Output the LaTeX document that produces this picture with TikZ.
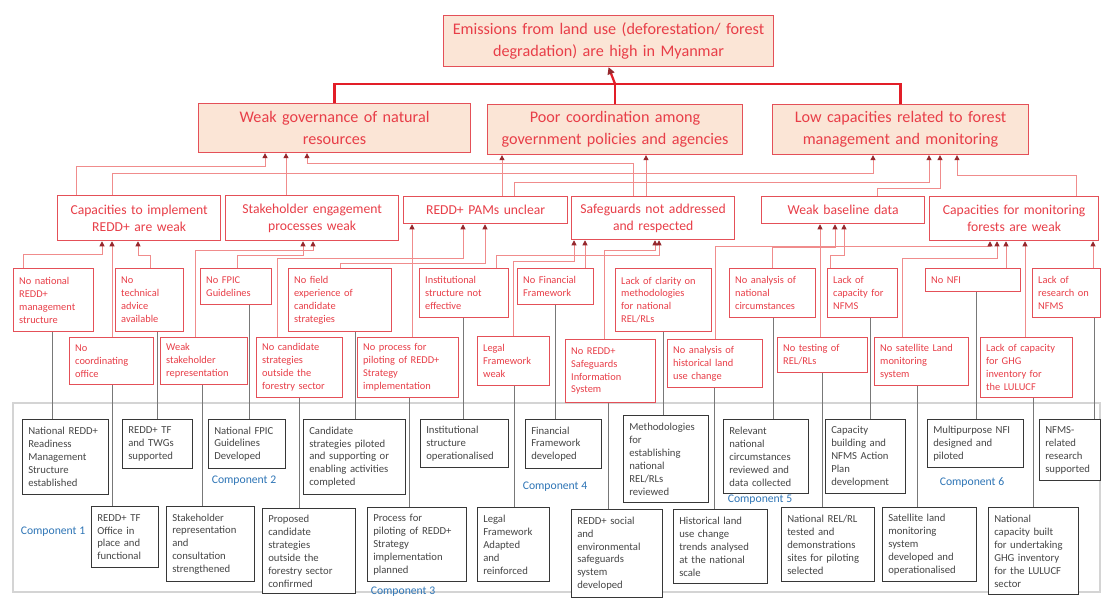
\documentclass[tikz,border=0pt]{standalone}
\usepackage{fontspec}
\setmainfont{Carlito}
\usetikzlibrary{arrows.meta}
\definecolor{peach}{RGB}{251,229,214}
\definecolor{boxred}{RGB}{228,80,88}
\definecolor{txtred}{RGB}{232,62,72}
\definecolor{linkred}{RGB}{240,140,140}
\definecolor{tipred}{RGB}{150,40,45}
\definecolor{busred}{RGB}{226,30,40}
\definecolor{boxblack}{RGB}{55,55,55}
\definecolor{txtblack}{RGB}{70,70,70}
\definecolor{greyline}{RGB}{120,120,120}
\definecolor{frame}{RGB}{212,212,212}
\definecolor{compblue}{RGB}{46,117,182}
\newcommand{\mybox}[7]{%
  \node[#1, anchor=north west, minimum width={(#5-#3)*0.025cm}, minimum height={(#6-#4)*0.025cm},
        text width={(#5-#3)*0.025cm-2*\pgfkeysvalueof{/pgf/inner xsep}}] (#2) at (#3,#4) {#7};}
\begin{document}
\begin{tikzpicture}[x=0.025cm,y=-0.025cm,
  lvlA/.style={draw=boxred, line width=0.8pt, fill=peach, text=txtred, align=center,
     inner xsep=3pt, inner ysep=0pt, font=\fontsize{11.5}{15.4}\selectfont},
  lvlB/.style={draw=boxred, line width=0.9pt, fill=white, text=txtred, align=center,
     inner xsep=3pt, inner ysep=0pt, font=\fontsize{9.7}{12}\selectfont},
  lvlC/.style={draw=boxred, line width=0.8pt, fill=white, text=txtred, align=left,
     inner xsep=4pt, inner ysep=0pt, font=\fontsize{7.4}{9.2}\selectfont},
  outbox/.style={draw=boxblack, line width=0.9pt, fill=white, text=txtblack, align=left,
     inner xsep=4pt, inner ysep=0pt, font=\fontsize{7.6}{9.2}\selectfont},
  uplink/.style={draw=linkred, line width=0.6pt, -{Triangle[length=3.6pt,width=3.6pt,color=tipred]}},
  downlink/.style={draw=greyline, line width=0.6pt},
  bus/.style={draw=busred, line width=1.6pt},
  comp/.style={text=compblue, font=\fontsize{8.3}{10}\selectfont, inner sep=0pt}]
\useasboundingbox (0,0) rectangle (1106,599);
\fill[white] (0,0) rectangle (1106,599);

% frame of the outputs
\draw[frame, line width=0.8pt] (13,403) rectangle (1100,592);

% ---------- level 0 and 1
\mybox{lvlA}{top}{443}{15}{773}{66}{Emissions from land use (deforestation/ forest\\degradation) are high in Myanmar}
\mybox{lvlA}{wg}{198}{103}{470}{152}{Weak governance of natural\\resources}
\mybox{lvlA}{poor}{487}{104}{742}{154}{Poor coordination among\\government policies and agencies}
\mybox{lvlA}{lowcap}{772}{104}{1028}{154}{Low capacities related to forest\\management and monitoring}

% ---------- level 2
\mybox{lvlB}{capimp}{57}{195}{220}{240}{Capacities to implement\\REDD+ are weak}
\mybox{lvlB}{stake}{225}{195}{398}{240}{Stakeholder engagement\\processes weak}
\mybox{lvlB}{pams}{403}{196}{567}{223}{REDD+ PAMs unclear}
\mybox{lvlB}{safe}{571}{196}{734}{239}{Safeguards not addressed\\and respected}
\mybox{lvlB}{weakbl}{761}{196}{924}{223}{Weak baseline data}
\mybox{lvlB}{capmon}{929}{196}{1098}{240}{Capacities for monitoring\\forests are weak}

% ---------- level 3, upper row
\mybox{lvlC}{nonat}{13}{268}{93}{331}{No national\\REDD+\\management\\structure}
\mybox{lvlC}{notech}{115}{268}{183}{331}{No\\technical\\advice\\available}
\mybox{lvlC}{nofpic}{200}{268}{271}{304}{No FPIC\\Guidelines}
\mybox{lvlC}{nofield}{288}{268}{391}{331}{No field\\experience of\\candidate\\strategies}
\mybox{lvlC}{instit}{419}{268}{508}{317}{Institutional\\structure not\\effective}
\mybox{lvlC}{nofin}{517}{268}{593}{304}{No Financial\\Framework}
\mybox{lvlC}{lack}{615}{268}{711}{331}{Lack of clarity on\\methodologies\\for national\\REL/RLs}
\mybox{lvlC}{nonatcirc}{729}{268}{815}{317}{No analysis of\\national\\circumstances}
\mybox{lvlC}{lacknfms}{827}{268}{897}{317}{Lack of\\capacity for\\NFMS}
\mybox{lvlC}{nonfi}{925}{268}{1020}{291}{No NFI}
\mybox{lvlC}{lackres}{1032}{268}{1100}{317}{Lack of\\research on\\NFMS}
% ---------- level 3, lower row
\mybox{lvlC}{nocoord}{69}{337}{153}{384}{No\\coordinating\\office}
\mybox{lvlC}{weakstake}{160}{337}{247}{384}{Weak\\stakeholder\\representation}
\mybox{lvlC}{nocand}{256}{337}{342}{397}{No candidate\\strategies\\outside the\\forestry sector}
\mybox{lvlC}{noproc}{357}{337}{458}{397}{No process for\\piloting of REDD+\\Strategy\\implementation}
\mybox{lvlC}{legal}{477}{336}{549}{385}{Legal\\Framework\\weak}
\mybox{lvlC}{nosafe}{565}{339}{655}{402}{No REDD+\\Safeguards\\Information\\System}
\mybox{lvlC}{histland}{667}{339}{762}{387}{No analysis of\\historical land\\use change}
\mybox{lvlC}{notest}{777}{337}{867}{372}{No testing of\\REL/RLs}
\mybox{lvlC}{nosat}{874}{337}{968}{385}{No satellite Land\\monitoring\\system}
\mybox{lvlC}{lackghg}{980}{337}{1072}{397}{Lack of capacity\\for GHG\\inventory for\\the LULUCF}

% ---------- outputs, upper row
\mybox{outbox}{o1}{22}{419}{108}{494}{National REDD+\\Readiness\\Management\\Structure\\established}
\mybox{outbox}{o2}{122}{419}{192}{468}{REDD+ TF\\and TWGs\\supported}
\mybox{outbox}{o3}{208}{419}{285}{468}{National FPIC\\Guidelines\\Developed}
\mybox{outbox}{o4}{303}{419}{405}{494}{Candidate\\strategies piloted\\and supporting or\\enabling activities\\completed}
\mybox{outbox}{o5}{420}{419}{508}{467}{Institutional\\structure\\operationalised}
\mybox{outbox}{o6}{525}{419}{601}{468}{Financial\\Framework\\developed}
\mybox{outbox}{o7}{623}{415}{708}{502}{Methodologies\\for\\establishing\\national\\REL/RLs\\reviewed}
\mybox{outbox}{o8}{723}{419}{808}{493}{Relevant\\national\\circumstances\\reviewed and\\data collected}
\mybox{outbox}{o9}{825}{419}{905}{493}{Capacity\\building and\\NFMS Action\\Plan\\development}
\mybox{outbox}{o10}{927}{419}{1023}{467}{Multipurpose NFI\\designed and\\piloted}
\mybox{outbox}{o11}{1039}{419}{1100}{480}{NFMS-\\related\\research\\supported}
% ---------- outputs, lower row
\mybox{outbox}{p1}{91}{506}{158}{567}{REDD+ TF\\Office in\\place and\\functional}
\mybox{outbox}{p2}{166}{506}{254}{581}{Stakeholder\\representation\\and\\consultation\\strengthened}
\mybox{outbox}{p3}{262}{508}{355}{593}{Proposed\\candidate\\strategies\\outside the\\forestry sector\\confirmed}
\mybox{outbox}{p4}{367}{507}{466}{581}{Process for\\piloting of REDD+\\Strategy\\implementation\\planned}
\mybox{outbox}{p5}{477}{507}{549}{581}{Legal\\Framework\\Adapted\\and\\reinforced}
\mybox{outbox}{p6}{571}{509}{662}{597}{REDD+ social\\and\\environmental\\safeguards\\system\\developed}
\mybox{outbox}{p7}{673}{509}{767}{583}{Historical land\\use change\\trends analysed\\at the national\\scale}
\mybox{outbox}{p8}{781}{507}{874}{581}{National REL/RL\\tested and\\demonstrations\\sites for piloting\\selected}
\mybox{outbox}{p9}{882}{507}{976}{581}{Satellite land\\monitoring\\system\\developed and\\operationalised}
\mybox{outbox}{p10}{988}{507}{1078}{594}{National\\capacity built\\for undertaking\\GHG inventory\\for the LULUCF\\sector}

% ---------- component labels
\node[comp] (c1) at (53,532) {Component 1};
\node[comp] (c2) at (244,481) {Component 2};
\node[comp] (c3) at (403,592) {Component 3};
\node[comp] (c4) at (555,487) {Component 4};
\node[comp] (c5) at (760,500) {Component 5};
\node[comp] (c6) at (972,482) {Component 6};

% ---------- bus to the top box
\draw[bus] (wg.north) |- (lowcap.north |- 0,84) -- (lowcap.north);
\draw[bus] (poor.north) -- (poor.north |- 0,84);
\draw[bus, -{Triangle[length=5pt,width=5pt,color=tipred]}] (poor.north |- 0,84) -- (top.south);

% ---------- level 2 -> level 1
\draw[uplink] (capimp.north -| 76,0) -- (76,166) -| (wg.south -| 265,0);
\draw[uplink] (stake.north -| 286,0) -- (wg.south -| 286,0);
\draw[uplink] (safe.north -| 633,0) -- (633,163) -| (wg.south -| 307,0);
\draw[uplink] (capimp.north -| 112,0) -- (112,173) -| (lowcap.south -| 873,0);
\draw[uplink] (pams.north -| 502,0) -- (poor.south -| 502,0);
\draw[uplink] (safe.north -| 646,0) -- (poor.south -| 646,0);
\draw[uplink] (pams.north -| 514,0) -- (514,182) -| (lowcap.south -| 929,0);
\draw[uplink] (weakbl.north -| 877,0) -- (877,188) -| (lowcap.south -| 940,0);
\draw[uplink] (capmon.north -| 1076,0) -- (1076,175) -| (lowcap.south -| 957,0);

% ---------- level 3 -> level 2
\draw[uplink] (nonat.north -| 23,0) -- (23,254) -| (capimp.south -| 102,0);
\draw[uplink] (nocoord.north -| 112,0) -- (capimp.south -| 112,0);
\draw[uplink] (notech.north -| 150,0) -- (150,255) -| (capimp.south -| 138,0);
\draw[uplink] (nofpic.north -| 237,0) -- (237,255) -| (stake.south -| 303,0);
\draw[uplink] (weakstake.north -| 195,0) -- (195,250) -| (stake.south -| 313,0);
\draw[uplink] (noproc.north -| 412,0) -- (pams.south -| 412,0);
\draw[uplink] (nocand.north -| 277,0) -- (277,258) -| (pams.south -| 463,0);
\draw[uplink] (nofield.north -| 340,0) -- (340,263) -| (pams.south -| 485,0);
\draw[uplink] (nofin.north -| 585,0) -- (safe.south -| 585,0);
\draw[uplink] (legal.north -| 513,0) -- (513,261) -| (safe.south -| 574,0);
\draw[uplink] (instit.north -| 496,0) -- (496,255) -| (safe.south -| 659,0);
\draw[uplink] (nosafe.north -| 604,0) -- (604,250) -| (safe.south -| 655,0);
\draw[uplink] (histland.north -| 715,0) -- (715,246) -| (capmon.south -| 990,0);
\draw[uplink] (notest.north -| 820,0) -- (weakbl.south -| 820,0);
\draw[uplink] (nonatcirc.north -| 772,0) -- (772,247) -| (weakbl.south -| 835,0);
\draw[uplink] (lacknfms.north -| 830,0) -- (830,255) -| (weakbl.south -| 844,0);
\draw[uplink] (nosat.north -| 902,0) -- (902,258) -| (capmon.south -| 997,0);
\draw[uplink] (nonfi.north -| 1006,0) -- (capmon.south -| 1006,0);
\draw[uplink] (lackghg.north -| 1025,0) -- (capmon.south -| 1025,0);
\draw[uplink] (lackres.north -| 1093,0) -- (capmon.south -| 1093,0);

% ---------- level 3 -> outputs
\draw[downlink] (nonat.south -| 52,0) -- (o1.north -| 52,0);
\draw[downlink] (notech.south -| 157,0) -- (o2.north -| 157,0);
\draw[downlink] (nocoord.south -| 112,0) -- (p1.north -| 112,0);
\draw[downlink] (weakstake.south -| 202,0) -- (p2.north -| 202,0);
\draw[downlink] (nofpic.south -| 249,0) -- (o3.north -| 249,0);
\draw[downlink] (nocand.south -| 299,0) -- (p3.north -| 299,0);
\draw[downlink] (nofield.south -| 355,0) -- (o4.north -| 355,0);
\draw[downlink] (noproc.south -| 409,0) -- (p4.north -| 409,0);
\draw[downlink] (instit.south -| 463,0) -- (o5.north -| 463,0);
\draw[downlink] (legal.south -| 514,0) -- (p5.north -| 514,0);
\draw[downlink] (nofin.south -| 555,0) -- (o6.north -| 555,0);
\draw[downlink] (nosafe.south -| 608,0) -- (p6.north -| 608,0);
\draw[downlink] (lack.south -| 663,0) -- (o7.north -| 663,0);
\draw[downlink] (histland.south -| 714,0) -- (p7.north -| 714,0);
\draw[downlink] (nonatcirc.south -| 773,0) -- (o8.north -| 773,0);
\draw[downlink] (lacknfms.south -| 870,0) -- (o9.north -| 870,0);
\draw[downlink] (notest.south -| 822,0) -- (p8.north -| 822,0);
\draw[downlink] (nosat.south -| 917,0) -- (p9.north -| 917,0);
\draw[downlink] (nonfi.south -| 976,0) -- (o10.north -| 976,0);
\draw[downlink] (lackghg.south -| 1033,0) -- (p10.north -| 1033,0);
\draw[downlink] (lackres.south -| 1094,0) -- (o11.north -| 1094,0);
\end{tikzpicture}
\end{document}
